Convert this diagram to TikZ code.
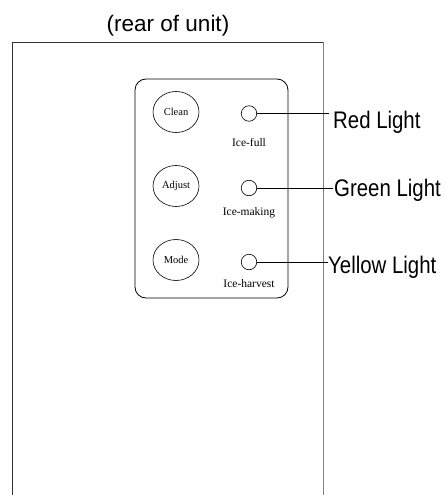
\documentclass[tikz,border=0pt]{standalone}
\usepackage{fontspec}
\setmainfont{Liberation Serif}
\newfontfamily\labelsans{Liberation Sans}
\usetikzlibrary{shapes.geometric}
\newcommand{\narrowtxt}[1]{\scalebox{0.85}[1]{#1}}
\begin{document}
\begin{tikzpicture}[x=1pt,y=-1pt,
  btn/.style={draw,ellipse,line width=0.6pt,minimum width=46pt,minimum height=41pt,inner sep=0pt,font=\fontsize{10.5}{12}\selectfont},
  lamp/.style={draw,circle,line width=0.6pt,minimum size=15.5pt,inner sep=0pt},
  small/.style={inner sep=0pt,font=\fontsize{11.5}{13}\selectfont},
  big/.style={inner sep=0pt,anchor=base west,font=\labelsans\fontsize{24}{26}\selectfont},
  wire/.style={line width=0.6pt}]
\useasboundingbox (0,0) rectangle (445,495);
% title
\node[inner sep=0pt,anchor=base,font=\labelsans\fontsize{22.5}{25}\selectfont] (title) at (168,32) {(rear of unit)};
% outer unit outline (open at bottom)
\draw[line width=0.8pt,black!80] (12,495) -- (12,42.5) -- (323,42.5);
\draw[line width=0.8pt,black!50] (323,42.5) -- (323,495);
% panel
\draw[line width=0.8pt,rounded corners=11pt] (135,79) rectangle (288,298);
% buttons
\node[btn] (clean) at (176,112) {Clean};
\node[btn] (adjust) at (176,186) {Adjust};
\node[btn] (mode) at (176,260) {Mode};
% lamps
\node[lamp] (l1) at (249,113.5) {};
\node[lamp] (l2) at (249,188) {};
\node[lamp] (l3) at (249,262) {};
% lamp labels
\node[small] (t1) at (249,143) {Ice-full};
\node[small] (t2) at (249,213) {Ice-making};
\node[small] (t3) at (249,284) {Ice-harvest};
% light labels
\node[big] (r1) at (333,128) {\narrowtxt{Red Light}};
\node[big] (r2) at (334,196) {\narrowtxt{Green Light}};
\node[big] (r3) at (328,273) {\narrowtxt{Yellow Light}};
\coordinate (e1) at (329,113.5);
\coordinate (e2) at (333,188);
\coordinate (e3) at (328,262);
% wires
\draw[wire] (l1.east) -- (e1);
\draw[wire] (l2.east) -- (e2);
\draw[wire] (l3.east) -- (e3);
\end{tikzpicture}
\end{document}
